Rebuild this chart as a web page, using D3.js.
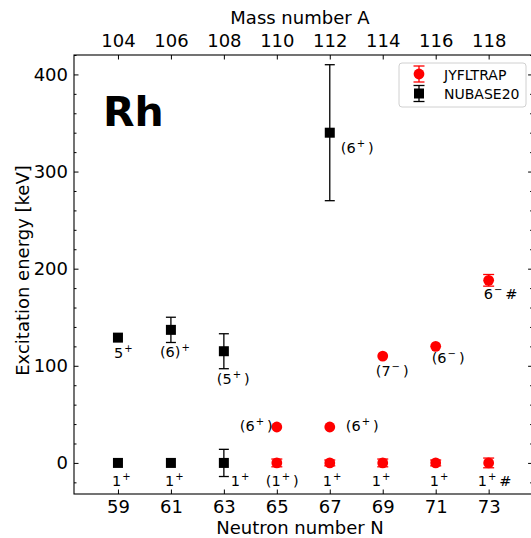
<!DOCTYPE html>
<html>
<head>
<meta charset="utf-8">
<script src="https://cdn.jsdelivr.net/npm/d3@7"></script>
<style>
  body { margin: 0; background: #fff; }
  svg { display: block; font-family: "DejaVu Sans", sans-serif; }
  .axis path { display: none; }
  .axis line { stroke: #000; stroke-width: 1; }
  .axis text { font-size: 18px; fill: #000; font-family: "DejaVu Sans", sans-serif; }
  .spin { font-size: 14.5px; fill: #000; }
</style>
</head>
<body>
<div id="chart"></div>
<script>
// data
const nTicks = [59, 61, 63, 65, 67, 69, 71, 73];
const aTicks = [104, 106, 108, 110, 112, 114, 116, 118];
const yTicks = [0, 100, 200, 300, 400];

const nubaseN = [59, 59, 61, 61, 63, 63, 67];
const nubaseE = [0, 129, 0, 137, 0, 115, 340];
const nubaseErr = [0, 0, 0, 13, 14, 18, 70];
const nubaseSpin = ["1^+", "5^+", "1^+", "(6)^+", "1^+", "(5^+)", "(6^+)"];

const jyflN = [65, 65, 67, 67, 69, 69, 71, 71, 73, 73];
const jyflE = [0, 37, 0, 37, 0, 110, 0, 120, 0, 188];
const jyflErr = [4, 0, 3, 0, 4, 0, 3, 0, 5, 6];
const jyflSpin = ["(1^+)", "(6^+)", "1^+", "(6^+)", "1^+", "(7^-)", "1^+", "(6^-)", "1^+#", "6^-#"];

// label offsets (px) from the marker: [dx, dy]
const nubaseLabelOff = [[-6, 23], [-4, 20], [-6, 23], [-11, 27], [7, 23], [-7, 33], [11, 20]];
const jyflLabelOff = [[-11, 23], [-37, 4], [-7, 23], [16, 4], [-11, 23], [-7, 20], [-6, 23], [-4, 17], [-11, 23], [-5, 19]];

//size
const width = 531, height = 538;
const plot = { left: 74, right: 532.6, top: 55, bottom: 494 };

//scale
const x = d3.scaleLinear().domain([57.34, 74.66]).range([plot.left, plot.right]);
const xA = d3.scaleLinear().domain([57.34 + 45, 74.66 + 45]).range([plot.left, plot.right]);
const y = d3.scaleLinear().domain([-32, 420]).range([plot.bottom, plot.top]);

const svg = d3.select("#chart").append("svg")
  .attr("width", width).attr("height", height);

const minorY = d3.range(-20, 421, 20).filter((v) => v % 100 !== 0);

//axes
svg.append("g").attr("class", "axis")
  .attr("transform", `translate(0,${plot.bottom})`)
  .call(d3.axisBottom(x).tickValues(nTicks).tickSizeInner(-4.5).tickSizeOuter(0).tickPadding(6));

svg.append("g").attr("class", "axis")
  .attr("transform", `translate(0,${plot.top})`)
  .call(d3.axisTop(xA).tickValues(aTicks).tickSizeInner(-4.5).tickSizeOuter(0).tickPadding(8));

svg.append("g").attr("class", "axis")
  .attr("transform", `translate(${plot.left},0)`)
  .call(d3.axisLeft(y).tickValues(yTicks).tickSizeInner(-4.5).tickSizeOuter(0).tickPadding(6));

svg.append("g").attr("class", "axis")
  .attr("transform", `translate(${plot.left},0)`)
  .call(d3.axisLeft(y).tickValues(minorY).tickSizeInner(-2.5).tickSizeOuter(0).tickFormat(""));

svg.append("g").attr("class", "axis")
  .attr("transform", `translate(${plot.right},0)`)
  .call(d3.axisRight(y).tickValues(yTicks).tickSizeInner(-4.5).tickSizeOuter(0).tickFormat(""));

svg.append("g").attr("class", "axis")
  .attr("transform", `translate(${plot.right},0)`)
  .call(d3.axisRight(y).tickValues(minorY).tickSizeInner(-2.5).tickSizeOuter(0).tickFormat(""));

//frame
svg.append("rect")
  .attr("x", plot.left).attr("y", plot.top)
  .attr("width", plot.right - plot.left).attr("height", plot.bottom - plot.top)
  .attr("fill", "none").attr("stroke", "#000").attr("stroke-width", 1.1);

//axis titles
svg.append("text").attr("x", 300).attr("y", 534)
  .attr("text-anchor", "middle").attr("font-size", 18).text("Neutron number N");
svg.append("text").attr("x", 300).attr("y", 24)
  .attr("text-anchor", "middle").attr("font-size", 18).text("Mass number A");
svg.append("text")
  .attr("transform", `translate(29,${(plot.top + plot.bottom) / 2 - 4}) rotate(-90)`)
  .attr("text-anchor", "middle").attr("font-size", 18).text("Excitation energy [keV]");

svg.append("text").attr("x", 103).attr("y", 126)
  .attr("font-size", 41).attr("font-weight", "bold").text("Rh");

function spinText(sel, label) {
  const parts = label.split(/(\^.)/);
  parts.forEach((p) => {
    if (!p) return;
    if (p[0] === "^") {
      sel.append("tspan").attr("dy", -6).attr("font-size", 10).attr("dx", 1).text(p[1] === "-" ? "\u2212" : p[1]);
      sel.append("tspan").attr("dy", 6).attr("font-size", 14.5).text("\u2009");
    } else {
      sel.append("tspan").text(p);
    }
  });
}

function series(ns, es, errs, spins, offs, color, shape, cap) {
  const pts = ns.map((n, i) => ({ n, e: es[i], err: errs[i], spin: spins[i], off: offs[i] }));
  const g = svg.append("g");

  const bars = g.selectAll("g.err").data(pts.filter((d) => d.err > 0)).join("g")
    .attr("class", "err").attr("stroke", color).attr("stroke-width", 1.3);
  bars.append("line")
    .attr("x1", (d) => x(d.n)).attr("x2", (d) => x(d.n))
    .attr("y1", (d) => y(d.e - d.err)).attr("y2", (d) => y(d.e + d.err));
  [1, -1].forEach((s) => {
    bars.append("line")
      .attr("x1", (d) => x(d.n) - cap).attr("x2", (d) => x(d.n) + cap)
      .attr("y1", (d) => y(d.e + s * d.err)).attr("y2", (d) => y(d.e + s * d.err));
  });

  if (shape === "square") {
    g.selectAll("rect.pt").data(pts).join("rect").attr("class", "pt")
      .attr("x", (d) => x(d.n) - 5).attr("y", (d) => y(d.e) - 5)
      .attr("width", 10).attr("height", 10).attr("fill", color);
  } else {
    g.selectAll("circle.pt").data(pts).join("circle").attr("class", "pt")
      .attr("cx", (d) => x(d.n)).attr("cy", (d) => y(d.e))
      .attr("r", 5.4).attr("fill", color);
  }

  g.selectAll("text.spin").data(pts).join("text").attr("class", "spin")
    .attr("x", (d) => x(d.n) + d.off[0]).attr("y", (d) => y(d.e) + d.off[1])
    .each(function (d) { spinText(d3.select(this), d.spin); });
}

series(nubaseN, nubaseE, nubaseErr, nubaseSpin, nubaseLabelOff, "#000", "square", 5);
series(jyflN, jyflE, jyflErr, jyflSpin, jyflLabelOff, "#ff0000", "circle", 5.5);

//legend
const leg = svg.append("g").attr("transform", "translate(399,63)");
leg.append("rect").attr("width", 127).attr("height", 44).attr("rx", 3)
  .attr("fill", "#fff").attr("fill-opacity", 0.8).attr("stroke", "#d0d0d0");
const items = [
  { label: "JYFLTRAP", color: "#ff0000", shape: "circle" },
  { label: "NUBASE20", color: "#000", shape: "square" },
];
items.forEach((it, i) => {
  const cy = 11 + i * 19.5;
  const gi = leg.append("g").attr("transform", `translate(20,${cy})`);
  gi.append("line").attr("y1", -8).attr("y2", 8).attr("stroke", it.color).attr("stroke-width", 1.3);
  gi.append("line").attr("x1", -5.5).attr("x2", 5.5).attr("y1", -8).attr("y2", -8).attr("stroke", it.color).attr("stroke-width", 1.3);
  gi.append("line").attr("x1", -5.5).attr("x2", 5.5).attr("y1", 8).attr("y2", 8).attr("stroke", it.color).attr("stroke-width", 1.3);
  if (it.shape === "circle") gi.append("circle").attr("r", 5.4).attr("fill", it.color);
  else gi.append("rect").attr("x", -5).attr("y", -5).attr("width", 10).attr("height", 10).attr("fill", it.color);
  leg.append("text").attr("x", 45).attr("y", cy + 5.5).attr("font-size", 14).text(it.label);
});
</script>
</body>
</html>
